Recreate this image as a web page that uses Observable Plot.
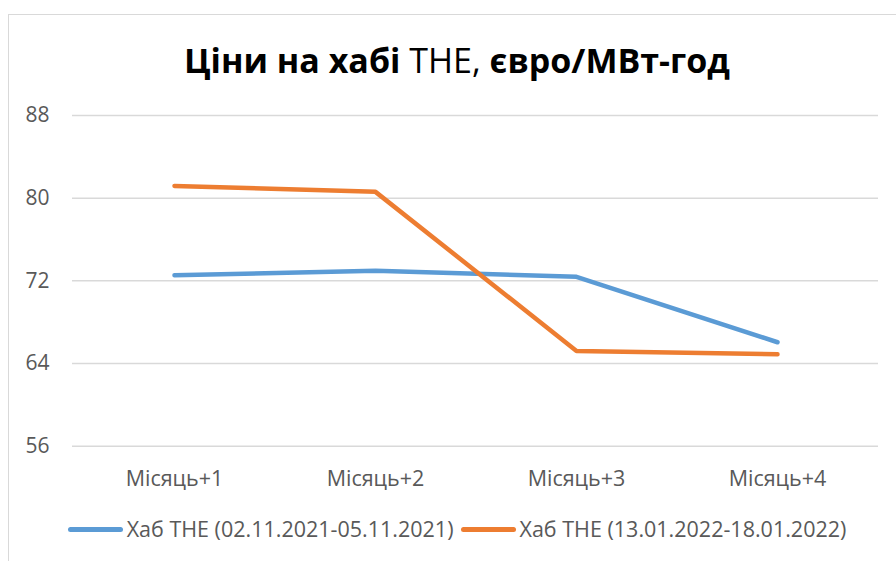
<!DOCTYPE html>
<html><head><meta charset="utf-8">
<script src="https://cdn.jsdelivr.net/npm/d3@7"></script>
<script src="https://cdn.jsdelivr.net/npm/@observablehq/plot@0.6"></script>
<style>
html,body{margin:0;padding:0;width:896px;height:561px;overflow:hidden;background:#fff;}
#frame{position:absolute;left:8px;top:14px;width:898px;height:620px;border:1.5px solid #d9d9d9;box-sizing:border-box;}
#title{position:absolute;left:8px;width:898px;top:43px;text-align:center;font-family:"Liberation Sans Narrow","Arial Narrow","Open Sans",sans-serif;font-size:34px;line-height:34px;color:#000;white-space:nowrap;}
#title b{font-weight:700;}
#title .l{font-weight:400;}
#chart{position:absolute;left:0;top:90px;}
#legend{position:absolute;left:8px;width:898px;top:518px;display:flex;justify-content:center;font-family:"Open Sans",sans-serif;font-size:21.5px;line-height:21px;color:#595959;white-space:nowrap;}
.item{display:flex;align-items:center;}
.sw{display:inline-block;width:55px;height:5px;border-radius:3px;margin-right:4px;position:relative;top:1px;}
.item + .item{margin-left:7px;}
</style>
</head><body>
<div id="frame"></div>
<div id="title"><b>Ціни на хабі</b> <span class="l">THE</span>, <b>євро/МВт-год</b></div>
<div id="chart"></div>
<div id="legend"></div>
<script>
const categories = ["Місяць+1", "Місяць+2", "Місяць+3", "Місяць+4"];
const seriesNames = ["Хаб THE (02.11.2021-05.11.2021)", "Хаб THE (13.01.2022-18.01.2022)"];
const seriesNov = [72.55, 72.97, 72.39, 66.06];
const seriesJan = [81.19, 80.61, 65.22, 64.90];
const yTicks = [56, 64, 72, 80, 88];
const colors = ["#5B9BD5", "#ED7D31"];

const rows = [];
categories.forEach((c, i) => {
  rows.push({cat: c, v: seriesNov[i], s: seriesNames[0]});
  rows.push({cat: c, v: seriesJan[i], s: seriesNames[1]});
});

const chart = Plot.plot({
  width: 896,
  height: 410,
  marginLeft: 72,
  marginRight: 18,
  marginTop: 25,
  marginBottom: 54.3,
  x: {type: "point", domain: categories, padding: 0.5, label: null},
  y: {domain: [56, 88], label: null},
  color: {domain: seriesNames, range: colors},
  style: {fontFamily: "'Open Sans', sans-serif", fontSize: "21px", color: "#595959", background: "transparent", overflow: "visible"},
  marks: [
    Plot.ruleY(yTicks, {stroke: "#d9d9d9", strokeWidth: 1.5}),
    Plot.axisY({ticks: yTicks, tickSize: 0, tickPadding: 23, label: null, fontSize: 21}),
    Plot.axisX({tickSize: 0, tickPadding: 25, label: null, fontSize: 21.5}),
    Plot.lineY(rows, {x: "cat", y: "v", z: "s", stroke: "s", strokeWidth: 4.5, strokeLinecap: "round", strokeLinejoin: "round"})
  ]
});
document.getElementById("chart").appendChild(chart);

const legend = document.getElementById("legend");
seriesNames.forEach((name, i) => {
  const item = document.createElement("div");
  item.className = "item";
  const sw = document.createElement("span");
  sw.className = "sw";
  sw.style.background = colors[i];
  const t = document.createElement("span");
  t.textContent = name;
  item.appendChild(sw);
  item.appendChild(t);
  legend.appendChild(item);
});
</script>
</body></html>
